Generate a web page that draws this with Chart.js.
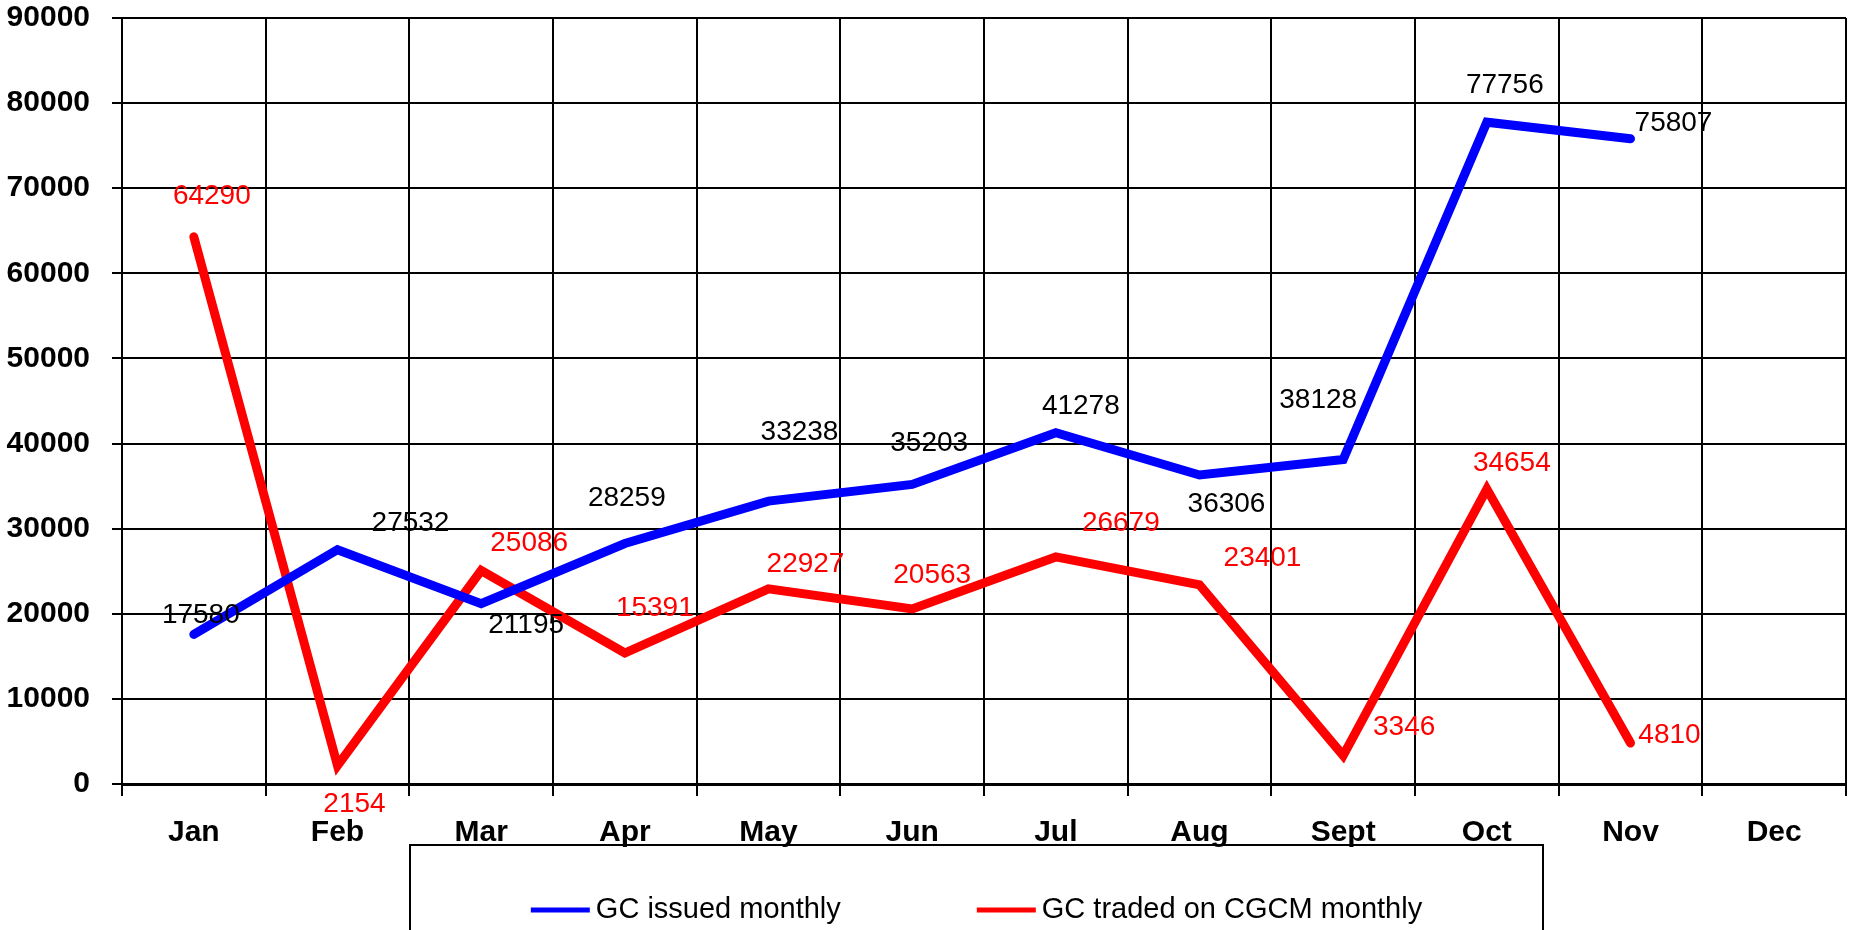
<!DOCTYPE html>
<html>
<head>
<meta charset="utf-8">
<script src="https://cdn.jsdelivr.net/npm/chart.js@4.4.1/dist/chart.umd.min.js"></script>
<style>
  html, body { margin: 0; padding: 0; background: #fff; }
  #wrap { width: 1851px; height: 930px; }
</style>
</head>
<body>
<div id="wrap"><canvas id="myChart" width="1851" height="930"></canvas></div>
<script>
"use strict";

/* Data */
const months = ["Jan", "Feb", "Mar", "Apr", "May", "Jun", "Jul", "Aug", "Sept", "Oct", "Nov", "Dec"];
const issuedMonthly = [17580, 27532, 21195, 28259, 33238, 35203, 41278, 36306, 38128, 77756, 75807, null];
const tradedMonthly = [64290, 2154, 25086, 15391, 22927, 20563, 26679, 23401, 3346, 34654, 4810, null];
const seriesNames = ["GC issued monthly", "GC traded on CGCM monthly"];

/* Label offsets (px) from each point */
const issuedOffsets = [[7,-19],[73,-26],[45,22],[2,-45],[31,-69],[17,-41],[25,-26],[27,29],[-25,-59],[18,-37],[43,-16],[0,0]];
const tradedOffsets = [[18,-41],[17,39],[48,-27],[30,-45],[37,-25],[20,-34],[65,-34],[63,-27],[61,-28],[25,-26],[39,-8],[0,0]];

const FONT = "'Liberation Sans', Arial, sans-serif";

/* Skriver ut värden vid punkterna */
const valueLabels = {
  id: "valueLabels",
  afterDatasetsDraw(chart) {
    const ctx = chart.ctx;
    const offsets = [issuedOffsets, tradedOffsets];
    const colors = ["#000000", "#ff0000"];
    ctx.save();
    ctx.font = "28px " + FONT;
    ctx.textAlign = "center";
    ctx.textBaseline = "middle";
    chart.data.datasets.forEach((ds, i) => {
      const meta = chart.getDatasetMeta(i);
      meta.data.forEach((pt, j) => {
        if (ds.data[j] == null) return;
        ctx.fillStyle = colors[i];
        ctx.fillText(String(ds.data[j]), pt.x + offsets[i][j][0], pt.y + offsets[i][j][1]);
      });
    });
    ctx.restore();
  }
};

/* Egen legend med ram */
const boxLegend = {
  id: "boxLegend",
  afterDraw(chart) {
    const ctx = chart.ctx;
    const left = 410, right = 1543, top = 845;
    ctx.save();
    ctx.strokeStyle = "#000";
    ctx.lineWidth = 2;
    ctx.beginPath();
    ctx.moveTo(left, 935);
    ctx.lineTo(left, top);
    ctx.lineTo(right, top);
    ctx.lineTo(right, 935);
    ctx.stroke();

    ctx.font = "29px " + FONT;
    ctx.textBaseline = "middle";
    const lineLen = 59, textGap = 6, itemGap = 136, y = 910;
    const widths = chart.data.datasets.map(ds => lineLen + textGap + ctx.measureText(ds.label).width);
    const total = widths.reduce((a, b) => a + b, 0) + itemGap;
    let x = (left + right) / 2 - total / 2;
    chart.data.datasets.forEach((ds, i) => {
      ctx.strokeStyle = ds.borderColor;
      ctx.lineWidth = 5;
      ctx.beginPath();
      ctx.moveTo(x, y);
      ctx.lineTo(x + lineLen, y);
      ctx.stroke();
      ctx.fillStyle = "#000";
      ctx.fillText(ds.label, x + lineLen + textGap, y);
      x += widths[i] + itemGap;
    });
    ctx.restore();
  }
};

function createChart() {
  const ctx = document.getElementById("myChart");
  new Chart(ctx, {
    type: "line",
    data: {
      labels: months,
      datasets: [{
        label: seriesNames[0],
        data: issuedMonthly,
        borderColor: "#0000ff",
        backgroundColor: "#0000ff",
        borderWidth: 9,
        pointRadius: 0,
        tension: 0,
        borderCapStyle: "round",
        borderJoinStyle: "miter"
      }, {
        label: seriesNames[1],
        data: tradedMonthly,
        borderColor: "#ff0000",
        backgroundColor: "#ff0000",
        borderWidth: 9,
        pointRadius: 0,
        tension: 0,
        borderCapStyle: "round",
        borderJoinStyle: "miter"
      }]
    },
    options: {
      responsive: false,
      animation: false,
      devicePixelRatio: 1,
      layout: { padding: { left: 0, right: 5, top: 18, bottom: 0 } },
      plugins: {
        legend: { display: false },
        tooltip: { enabled: false }
      },
      scales: {
        x: {
          offset: true,
          grid: { offset: true, color: "#000", lineWidth: 2, tickLength: 12, drawTicks: true },
          border: { color: "#000", width: 3 },
          ticks: { color: "#000", padding: 19, font: { family: FONT, size: 30, weight: "bold" } },
          afterFit(scale) {
            scale.height = 146;
            scale.paddingLeft = 0;
            scale.paddingRight = 0;
          }
        },
        y: {
          min: 0,
          max: 90000,
          grid: { color: "#000", lineWidth: 2, tickLength: 10 },
          border: { color: "#000", width: 2 },
          ticks: {
            stepSize: 10000,
            color: "#000",
            padding: 22,
            font: { family: FONT, size: 30, weight: "bold" },
            callback: value => String(value)
          },
          afterFit(scale) {
            scale.width = 122;
            scale.paddingTop = 0;
            scale.paddingBottom = 0;
          }
        }
      }
    },
    plugins: [valueLabels, boxLegend]
  });
}

window.onload = createChart;
</script>
</body>
</html>
